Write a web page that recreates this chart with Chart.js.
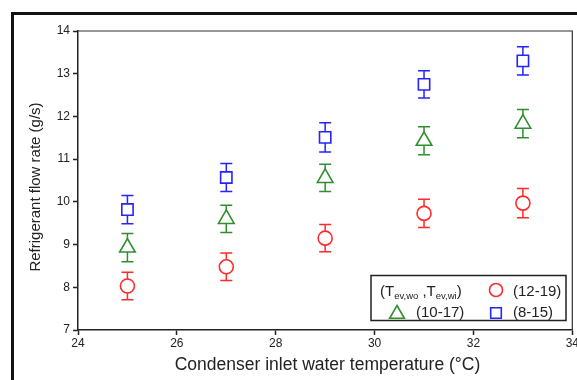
<!DOCTYPE html>
<html lang="en">
  <head>
    <meta charset="UTF-8" />
    <title>Refrigerant flow rate</title>
    <style>
      body {
        margin: 0;
        background: #fff;
      }
      .wrap {
        position: relative;
        width: 577px;
        height: 380px;
        overflow: hidden;
      }
      .frame {
        position: absolute;
        left: 11px;
        top: 12px;
        width: 700px;
        height: 500px;
        border-left: 3px solid #111;
        border-top: 3px solid #111;
      }
      canvas {
        position: absolute;
        left: 0;
        top: 0;
      }
    </style>
  </head>
  <body>
    <div class="wrap">
      <div class="frame"></div>
      <!-- a little wider than the window so the "34" label runs off the edge -->
      <canvas id="chart" width="580" height="380"></canvas>
    </div>

    <script src="https://cdn.jsdelivr.net/npm/chart.js"></script>

    <script>
      const temps = [25, 27, 29, 31, 33];

      const flow1219 = [8.03, 8.48, 9.15, 9.73, 9.97];
      const err1219 = [0.32, 0.32, 0.32, 0.33, 0.34];

      const flow1017 = [8.93, 9.6, 10.56, 11.43, 11.83];
      const err1017 = [0.33, 0.32, 0.32, 0.33, 0.33];

      const flow815 = [9.82, 10.57, 11.51, 12.75, 13.3];
      const err815 = [0.33, 0.33, 0.34, 0.32, 0.33];

      const xTicks = [24, 26, 28, 30, 32, 34];
      const yTicks = [7, 8, 9, 10, 11, 12, 13, 14];

      const xTitle = "Condenser inlet water temperature (°C)";
      const yTitle = "Refrigerant flow rate (g/s)";

      const RED = "#ff2a2a";
      const GREEN = "#2f8f2f";
      const BLUE = "#2424ff";
      const FONT = "'Liberation Sans', Arial, sans-serif";

      function points(values) {
        return values.map((v, i) => ({ x: temps[i], y: v }));
      }

      // error bars, drawn under the hollow markers
      const errorBars = {
        id: "errorBars",
        beforeDatasetsDraw(chart) {
          const { ctx, scales } = chart;
          chart.data.datasets.forEach((ds) => {
            ctx.save();
            ctx.strokeStyle = ds.borderColor;
            ctx.lineWidth = 1.5;
            ds.data.forEach((p, i) => {
              const x = scales.x.getPixelForValue(p.x);
              const yTop = scales.y.getPixelForValue(p.y + ds.errors[i]);
              const yBot = scales.y.getPixelForValue(p.y - ds.errors[i]);
              ctx.beginPath();
              ctx.moveTo(x, yTop);
              ctx.lineTo(x, yBot);
              ctx.moveTo(x - 6, yTop);
              ctx.lineTo(x + 6, yTop);
              ctx.moveTo(x - 6, yBot);
              ctx.lineTo(x + 6, yBot);
              ctx.stroke();
            });
            ctx.restore();
          });
        },
      };

      // box around the plot area, axis titles and the legend
      const frameAndLegend = {
        id: "frameAndLegend",
        afterDraw(chart) {
          const { ctx, chartArea } = chart;
          ctx.save();
          ctx.strokeStyle = "#333";
          ctx.lineWidth = 1.2;
          ctx.beginPath();
          ctx.moveTo(chartArea.left, chartArea.top);
          ctx.lineTo(chartArea.right, chartArea.top);
          ctx.lineTo(chartArea.right, chartArea.bottom);
          ctx.stroke();

          // axis titles
          ctx.fillStyle = "#222";
          ctx.textAlign = "center";
          ctx.textBaseline = "middle";
          ctx.font = "17.5px " + FONT;
          ctx.fillText(xTitle, 327.5, 365);
          ctx.save();
          ctx.translate(36, 187);
          ctx.rotate(-Math.PI / 2);
          ctx.font = "15px " + FONT;
          ctx.fillText(yTitle, 0, 0);
          ctx.restore();

          // legend
          ctx.strokeStyle = "#222";
          ctx.lineWidth = 1.5;
          ctx.strokeRect(371, 275.5, 195, 45);

          ctx.textAlign = "left";
          ctx.textBaseline = "alphabetic";
          let x = 380;
          const base = 296;
          const part = (txt, size, dy) => {
            ctx.font = size + "px " + FONT;
            ctx.fillText(txt, x, base + dy);
            x += ctx.measureText(txt).width;
          };
          part("(T", 15, 0);
          part("ev,wo", 9.5, 3);
          part(" ,T", 15, 0);
          part("ev,wi", 9.5, 3);
          part(")", 15, 0);

          ctx.font = "15px " + FONT;
          ctx.fillText("(12-19)", 513, base);
          ctx.fillText("(10-17)", 416, 317);
          ctx.fillText("(8-15)", 513, 317);

          const marker = (style, color, r, px, py) => {
            ctx.strokeStyle = color;
            ctx.fillStyle = "#fff";
            Chart.helpers.drawPoint(
              ctx,
              { pointStyle: style, radius: r, rotation: 0, borderWidth: 1.6 },
              px,
              py
            );
          };
          ctx.lineWidth = 1.6;
          marker("circle", RED, 6.5, 496, 290);
          marker("triangle", GREEN, 8.5, 397, 314);
          marker("rect", BLUE, 7.5, 496, 313);
          ctx.restore();
        },
      };

      const axisColor = "#222";

      new Chart(document.getElementById("chart"), {
        type: "scatter",
        data: {
          datasets: [
            {
              label: "(12-19)",
              data: points(flow1219),
              errors: err1219,
              pointStyle: "circle",
              pointRadius: 7,
              borderColor: RED,
            },
            {
              label: "(10-17)",
              data: points(flow1017),
              errors: err1017,
              pointStyle: "triangle",
              pointRadius: 9,
              borderColor: GREEN,
            },
            {
              label: "(8-15)",
              data: points(flow815),
              errors: err815,
              pointStyle: "rect",
              pointRadius: 8,
              borderColor: BLUE,
            },
          ].map((ds) => ({
            ...ds,
            backgroundColor: "#fff",
            pointBackgroundColor: "#fff",
            pointBorderWidth: 1.6,
            pointHoverRadius: ds.pointRadius,
          })),
        },
        options: {
          responsive: false,
          animation: false,
          layout: {
            autoPadding: false,
            padding: { left: 0, top: 31, right: 0, bottom: 0 },
          },
          plugins: {
            legend: { display: false },
            tooltip: { enabled: false },
          },
          scales: {
            x: {
              type: "linear",
              min: 24,
              max: 34,
              afterBuildTicks: (scale) => {
                scale.ticks = xTicks.map((v) => ({ value: v }));
              },
              afterFit: (scale) => {
                scale.height = 50;
              },
              grid: {
                drawOnChartArea: false,
                drawTicks: true,
                tickLength: 5,
                tickColor: axisColor,
                tickWidth: 1.5,
              },
              border: { color: axisColor, width: 1.5 },
              ticks: {
                padding: 1,
                color: "#222",
                maxRotation: 0,
                font: { family: FONT, size: 12 },
              },
            },
            y: {
              type: "linear",
              min: 7,
              max: 14,
              afterBuildTicks: (scale) => {
                scale.ticks = yTicks.map((v) => ({ value: v }));
              },
              afterFit: (scale) => {
                scale.width = 78;
              },
              grid: {
                drawOnChartArea: false,
                drawTicks: true,
                tickLength: 5,
                tickColor: axisColor,
                tickWidth: 1.5,
              },
              border: { color: axisColor, width: 1.5 },
              ticks: {
                padding: 3,
                color: "#222",
                font: { family: FONT, size: 12 },
              },
            },
          },
        },
        plugins: [errorBars, frameAndLegend],
      });
    </script>
  </body>
</html>
